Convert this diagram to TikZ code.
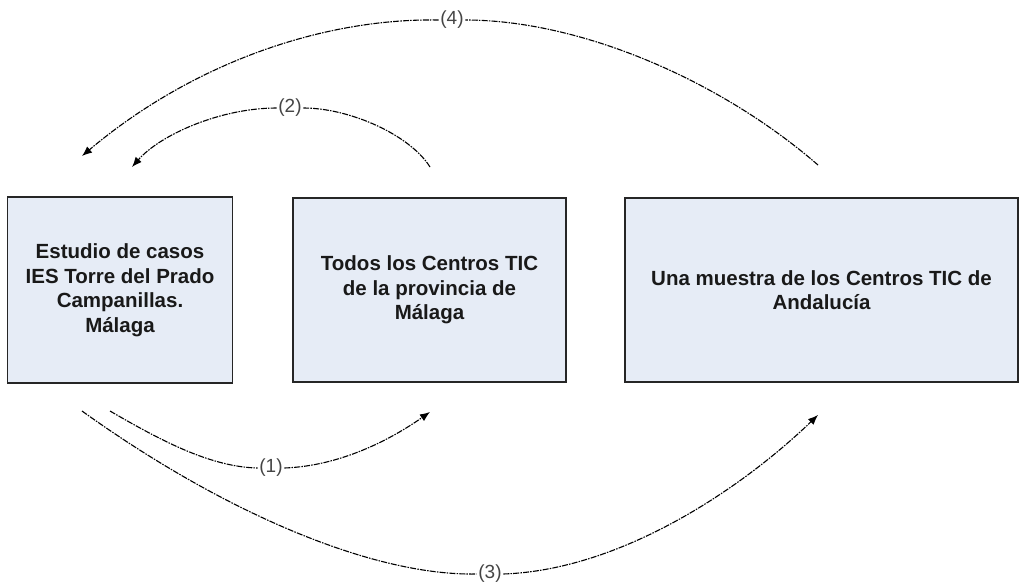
\documentclass[tikz,border=0pt]{standalone}
\usepackage{fontspec}
\setmainfont{Liberation Sans}
\usetikzlibrary{arrows.meta}
\definecolor{boxfill}{HTML}{E6ECF6}
\definecolor{boxline}{HTML}{262626}
\definecolor{labelgray}{HTML}{454545}
\tikzset{
  stagebox/.style={draw=boxline, line width=1.3pt, fill=boxfill, align=center,
    font=\fontsize{20.5}{24.5}\selectfont\bfseries, text=black!90, inner sep=0pt},
  flowline/.style={draw=black, line width=1.1pt,
    dash pattern=on 6pt off 1.2pt on 1.5pt off 1.2pt},
  flowarrow/.style={flowline, -{Latex[length=10pt,width=8pt]}},
  steplabel/.style={font=\fontsize{19}{22}\selectfont, text=labelgray, inner sep=1.5pt}
}
\begin{document}
\begin{tikzpicture}[x=1pt,y=-1pt]
\useasboundingbox (0,0) rectangle (1019,584);
% boxes
\node[stagebox, minimum width=225pt, minimum height=186pt] (b1) at (120,290)
  {Estudio de casos\\IES Torre del Prado\\Campanillas.\\Málaga};
\node[stagebox, minimum width=273pt, minimum height=184pt] (b2) at (429.5,290)
  {Todos los Centros TIC\\de la provincia de\\Málaga};
\node[stagebox, minimum width=393pt, minimum height=184pt] (b3) at (821.5,290)
  {Una muestra de los Centros TIC de\\Andalucía};
% labels
\node[steplabel] (L4) at (452,20) {(4)};
\node[steplabel] (L2) at (290,108) {(2)};
\node[steplabel] (L1) at (271,468) {(1)};
\node[steplabel] (L3) at (490,574) {(3)};
% arrow end points
\coordinate (s4) at (818,165);
\coordinate (e4) at (82,156);
\coordinate (s2) at (430,167);
\coordinate (e2) at (132,167);
\coordinate (s1) at (110,411);
\coordinate (e1) at (430,412);
\coordinate (s3) at (82,411);
\coordinate (e3) at (818,415);
% (4)
\draw[flowline] (s4) .. controls (720,80) and (580,20) .. (L4.east);
\draw[flowarrow] (L4.west) .. controls (320,18) and (190,65) .. (e4);
% (2)
\draw[flowline] (s2) .. controls (410,135) and (350,108) .. (L2.east);
\draw[flowarrow] (L2.west) .. controls (220,108) and (160,135) .. (e2);
% (1)
\draw[flowline] (s1) .. controls (160,440) and (210,467) .. (L1.west);
\draw[flowarrow] (L1.east) .. controls (340,466) and (390,440) .. (e1);
% (3)
\draw[flowline] (s3) .. controls (220,510) and (370,576) .. (L3.west);
\draw[flowarrow] (L3.east) .. controls (620,570) and (740,490) .. (e3);
\end{tikzpicture}
\end{document}
